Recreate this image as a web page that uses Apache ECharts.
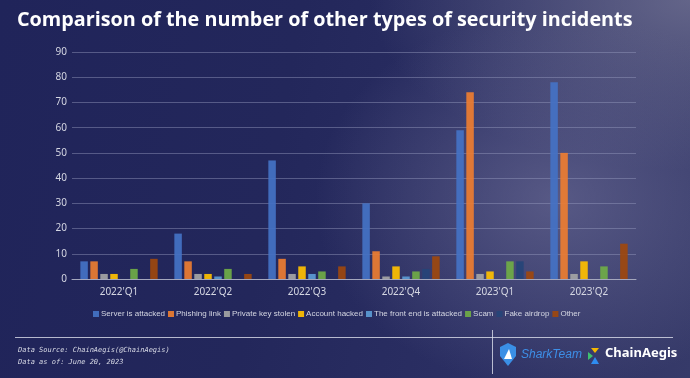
<!DOCTYPE html>
<html><head><meta charset="utf-8">
<script src="https://cdn.jsdelivr.net/npm/echarts@6/dist/echarts.min.js"></script>
<style>
html,body{margin:0;padding:0;}
body{width:690px;height:378px;overflow:hidden;
background:
radial-gradient(ellipse 240px 190px at 555px 200px, rgba(115,115,155,0.6), rgba(115,115,155,0) 100%),
radial-gradient(ellipse 320px 170px at 690px 0px, rgba(125,125,155,0.65), rgba(125,125,155,0) 100%),
linear-gradient(100deg, #20245a 0%, #23275b 40%, #2b2f63 70%, #363a69 100%);}
#c{width:690px;height:378px;}
</style></head>
<body><div id="c"></div>
<script>
const categories = ["2022'Q1","2022'Q2","2022'Q3","2022'Q4","2023'Q1","2023'Q2"];
const seriesNames = ["Server is attacked","Phishing link","Private key stolen","Account hacked","The front end is attacked","Scam","Fake airdrop","Other"];
const serverAttacked = [7,18,47,30,59,78];
const phishingLink = [7,7,8,11,74,50];
const privateKeyStolen = [2,2,2,1,2,2];
const accountHacked = [2,2,5,5,3,7];
const frontEndAttacked = [0,1,2,1,0,0];
const scam = [4,4,3,3,7,5];
const fakeAirdrop = [0,0,0,4,7,0];
const other = [8,2,5,9,3,14];
const yTicks = [0,10,20,30,40,50,60,70,80,90];
const colors = ['#4472C4','#ED7D31','#A5A5A5','#FFC000','#5B9BD5','#70AD47','#264478','#9E480E'];
const allData = [serverAttacked,phishingLink,privateKeyStolen,accountHacked,frontEndAttacked,scam,fakeAirdrop,other];

const chart = echarts.init(document.getElementById('c'), null, {renderer:'canvas'});
const series = seriesNames.map((n,i)=>({
  name:n, type:'bar', data:allData[i], barWidth:7.5, barGap:'33%',
  itemStyle:{color:colors[i], opacity:0.92}
}));
chart.setOption({
  backgroundColor:'transparent',
  animation:false,
  color:colors,
  title:{text:'Comparison of the number of other types of security incidents', left:12, top:5,
    textStyle:{color:'#ffffff', fontSize:19.8, fontWeight:'bold', fontFamily:'Open Sans'}},
  grid:{left:72, right:54, top:52, bottom:99},
  legend:{left:88, top:305, itemWidth:6, itemHeight:6, itemGap:3, icon:'rect',
    textStyle:{color:'#d4d6e2', fontSize:8, fontFamily:'Liberation Sans', padding:[0,0,0,-3]},
    data:seriesNames},
  xAxis:{type:'category', data:categories,
    axisLine:{lineStyle:{color:'#a4a7bd', width:1}}, axisTick:{show:false},
    axisLabel:{color:'#d4d6e2', fontSize:10, margin:8, fontFamily:'Noto Sans'}},
  yAxis:{type:'value', min:yTicks[0], max:yTicks[yTicks.length-1], interval:10,
    axisLine:{show:false}, axisTick:{show:false},
    axisLabel:{color:'#d4d6e2', fontSize:10, margin:5, fontFamily:'Noto Sans'},
    splitLine:{lineStyle:{color:'rgba(150,155,190,0.45)', width:1}}},
  series:series,
  graphic:[
    {type:'line', shape:{x1:15,y1:337.5,x2:673,y2:337.5}, style:{stroke:'rgba(220,222,235,0.8)', lineWidth:1}},
    {type:'line', shape:{x1:492.5,y1:330,x2:492.5,y2:374}, style:{stroke:'rgba(220,222,235,0.8)', lineWidth:1}},
    {type:'text', left:18, top:347, style:{text:'Data Source: ChainAegis(@ChainAegis)', fill:'#d8dae6', font:'italic 7px "DejaVu Sans Mono"'}},
    {type:'text', left:18, top:359, style:{text:'Data as of: June 20, 2023', fill:'#d8dae6', font:'italic 7px "DejaVu Sans Mono"'}},
    {type:'polygon', shape:{points:[[500,347],[508,343],[516,347],[516,356],[508,366],[500,356]]}, style:{fill:'#3a8fe6'}},
    {type:'polygon', shape:{points:[[504,359],[509,349],[512,359]]}, style:{fill:'#ffffff'}},
    {type:'text', left:521, top:349, style:{text:'SharkTeam', fill:'#3d8fe8', font:'italic 12px "Liberation Sans"'}},
    {type:'polygon', shape:{points:[[591,348],[599,348],[595,353]]}, style:{fill:'#f5b800'}},
    {type:'polygon', shape:{points:[[588,352],[593,356],[588,360]]}, style:{fill:'#3fc070'}},
    {type:'polygon', shape:{points:[[595,357],[599,364],[591,364]]}, style:{fill:'#2f8cf0'}},
    {type:'text', left:605, top:347, style:{text:'ChainAegis', fill:'#ffffff', font:'bold 13px "Noto Sans"'}}
  ]
});
</script></body></html>
